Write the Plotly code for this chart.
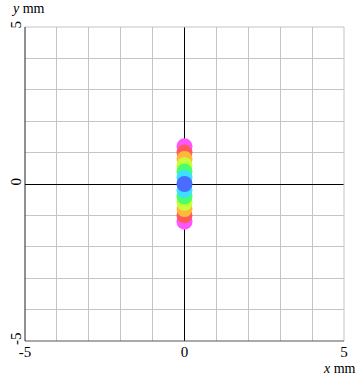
import plotly.graph_objects as go

# Spot diagram data (mm), drawn from outer to inner
spot_x = [0, 0, 0, 0, 0, 0, 0, 0, 0, 0, 0, 0, 0]
spot_y = [1.2, -1.2, 1.0, -1.0, 0.8, -0.8, 0.6, -0.6, 0.4, -0.4, 0.2, -0.2, 0.0]
spot_colors = ["#ff55ff", "#ff55ff", "#ff5a5a", "#ff5a5a", "#ffb83a", "#ffb83a",
               "#c8ff3c", "#c8ff3c", "#4cff66", "#4cff66", "#3ee0ff", "#3ee0ff",
               "#4a6cff"]

tick_vals = [-5, 0, 5]
tick_text = ["-5", "0", "5"]
grid_step = 1

font_family = "Liberation Serif"

fig = go.Figure()
fig.add_trace(go.Scatter(
    x=spot_x, y=spot_y, mode="markers",
    marker=dict(size=16, color=spot_colors, line=dict(width=0)),
    hoverinfo="skip", showlegend=False,
))

axis_common = dict(
    range=[-5, 5],
    showgrid=True, gridcolor="#c4c4c4", gridwidth=1,
    zeroline=True, zerolinecolor="#000000", zerolinewidth=1,
    ticks="", tickfont=dict(family=font_family, size=15, color="#000000"),
    showline=False, automargin=False,
    fixedrange=True,
)

fig.update_xaxes(**axis_common, tickvals=tick_vals, ticktext=tick_text,
                 minor=dict(showgrid=True, dtick=grid_step, gridcolor="#c4c4c4", gridwidth=1))
fig.update_yaxes(**axis_common, tickvals=tick_vals, ticktext=tick_text, tickangle=-90,
                 minor=dict(showgrid=True, dtick=grid_step, gridcolor="#c4c4c4", gridwidth=1))

# frame: top/right light, left/bottom dark
shapes = [
    dict(type="line", xref="paper", yref="paper", x0=0, x1=1, y0=1, y1=1,
         line=dict(color="#c4c4c4", width=1)),
    dict(type="line", xref="paper", yref="paper", x0=1, x1=1, y0=0, y1=1,
         line=dict(color="#c4c4c4", width=1)),
    dict(type="line", xref="paper", yref="paper", x0=0, x1=1, y0=0, y1=0,
         line=dict(color="#555555", width=1)),
    dict(type="line", xref="paper", yref="paper", x0=0, x1=0, y0=0, y1=1,
         line=dict(color="#222222", width=1)),
]

annotations = [
    dict(text="<i>y</i> mm", xref="paper", yref="paper", x=0, y=1.0,
         xanchor="left", yanchor="bottom", xshift=-16, yshift=9, showarrow=False,
         font=dict(family=font_family, size=14, color="#000000")),
    dict(text="<i>x</i> mm", xref="paper", yref="paper", x=1.0, y=0.0,
         xanchor="right", yanchor="top", xshift=14, yshift=-18, showarrow=False,
         font=dict(family=font_family, size=14, color="#000000")),
]

fig.update_layout(
    width=358, height=382,
    margin=dict(l=25, r=14, t=27, b=41),
    plot_bgcolor="#ffffff", paper_bgcolor="#ffffff",
    shapes=shapes, annotations=annotations,
    showlegend=False,
)

fig.write_html("out.html", config={"displayModeBar": False},
               post_script="document.body.style.margin='0';document.body.style.padding='0';")
